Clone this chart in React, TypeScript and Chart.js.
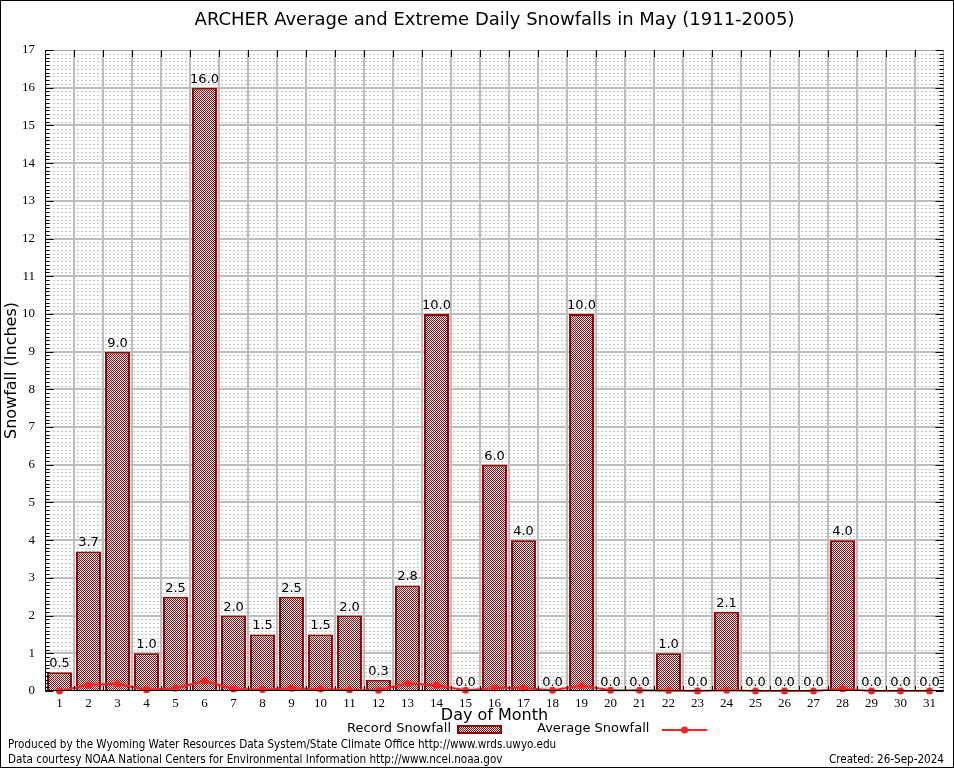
import React, { useEffect, useRef } from "react";
import { Chart, registerables } from "chart.js";

Chart.register(...registerables);

const days = ["1","2","3","4","5","6","7","8","9","10","11","12","13","14","15","16","17","18","19","20","21","22","23","24","25","26","27","28","29","30","31"];
const recordSnowfall = [0.5, 3.7, 9.0, 1.0, 2.5, 16.0, 2.0, 1.5, 2.5, 1.5, 2.0, 0.3, 2.8, 10.0, 0.0, 6.0, 4.0, 0.0, 10.0, 0.0, 0.0, 1.0, 0.0, 2.1, 0.0, 0.0, 0.0, 4.0, 0.0, 0.0, 0.0];
const averageSnowfall = [0.0, 0.16, 0.19, 0.03, 0.07, 0.27, 0.05, 0.04, 0.07, 0.05, 0.03, 0.02, 0.2, 0.15, 0.02, 0.08, 0.08, 0.02, 0.14, 0.02, 0.02, 0.01, 0.0, 0.02, 0.0, 0.0, 0.0, 0.06, 0.0, 0.0, 0.0];
const yTicks = [0, 1, 2, 3, 4, 5, 6, 7, 8, 9, 10, 11, 12, 13, 14, 15, 16, 17];

const titleText = "ARCHER Average and Extreme Daily Snowfalls in May (1911-2005)";
const yTitle = "Snowfall (Inches)";
const xTitle = "Day of Month";
const footer1 = "Produced by the Wyoming Water Resources Data System/State Climate Office http://www.wrds.uwyo.edu";
const footer2 = "Data courtesy NOAA National Centers for Environmental Information http://www.ncei.noaa.gov";
const createdText = "Created: 26-Sep-2024";

function makePattern(ctx: CanvasRenderingContext2D): CanvasPattern | string {
  const c = document.createElement("canvas");
  c.width = 2;
  c.height = 2;
  const p = c.getContext("2d");
  if (!p) return "#d04040";
  p.fillStyle = "#ffffff";
  p.fillRect(0, 0, 2, 2);
  p.fillStyle = "#a80000";
  p.fillRect(0, 0, 1, 1);
  p.fillRect(1, 1, 1, 1);
  return ctx.createPattern(c, "repeat") || "#d04040";
}

export default function App() {
  const ref = useRef<HTMLCanvasElement | null>(null);

  useEffect(() => {
    document.body.style.margin = "0";
    const canvas = ref.current;
    if (!canvas) return;
    const ctx0 = canvas.getContext("2d")!;
    const pattern = makePattern(ctx0);

    const decor = {
      id: "decor",
      beforeDatasetsDraw(chart: any) {
        const { ctx, chartArea: a, scales } = chart;
        const x = scales.x;
        const y = scales.y;
        ctx.save();
        ctx.strokeStyle = "#c4c4c4";
        ctx.lineWidth = 1;
        ctx.setLineDash([2, 2]);
        for (let i = 1; i < 170; i++) {
          if (i % 10 === 0) continue;
          const py = Math.round(y.getPixelForValue(i / 10)) + 0.5;
          ctx.beginPath();
          ctx.moveTo(a.left, py);
          ctx.lineTo(a.right, py);
          ctx.stroke();
        }
        ctx.setLineDash([]);
        ctx.strokeStyle = "#bdbdbd";
        ctx.lineWidth = 2;
        for (let v = 1; v < 17; v++) {
          const py = Math.round(y.getPixelForValue(v));
          ctx.beginPath();
          ctx.moveTo(a.left, py);
          ctx.lineTo(a.right, py);
          ctx.stroke();
        }
        for (let i = 0; i < days.length - 1; i++) {
          const px = Math.round((x.getPixelForValue(i) + x.getPixelForValue(i + 1)) / 2);
          ctx.beginPath();
          ctx.moveTo(px, a.top);
          ctx.lineTo(px, a.bottom);
          ctx.stroke();
        }
        ctx.strokeStyle = "#a8a8a8";
        ctx.lineWidth = 1;
        ctx.strokeRect(Math.round(a.left) + 0.5, Math.round(a.top) + 0.5, Math.round(a.right - a.left) - 1, Math.round(a.bottom - a.top) - 1);
        ctx.restore();
      },
      afterDatasetsDraw(chart: any) {
        const { ctx, chartArea: a, scales } = chart;
        const x = scales.x;
        const y = scales.y;
        ctx.save();
        const meta = chart.getDatasetMeta(1);
        ctx.fillStyle = "#000";
        ctx.font = "13px 'DejaVu Sans'";
        ctx.textAlign = "center";
        ctx.textBaseline = "alphabetic";
        meta.data.forEach((el: any, i: number) => {
          ctx.fillText(recordSnowfall[i].toFixed(1), el.x, el.y - 5);
        });
        ctx.strokeStyle = "#000";
        ctx.lineWidth = 1;
        const L = Math.round(a.left) + 0.5;
        const R = Math.round(a.right) - 0.5;
        for (let i = 0; i <= 170; i++) {
          const py = Math.round(y.getPixelForValue(i / 10)) + 0.5;
          const len = i % 10 === 0 ? 8 : 4;
          ctx.beginPath();
          ctx.moveTo(L, py);
          ctx.lineTo(L + len, py);
          ctx.moveTo(R, py);
          ctx.lineTo(R - len, py);
          ctx.stroke();
        }
        for (let i = 0; i < days.length - 1; i++) {
          const px = Math.round((x.getPixelForValue(i) + x.getPixelForValue(i + 1)) / 2) + 0.5;
          ctx.beginPath();
          ctx.moveTo(px, a.top);
          ctx.lineTo(px, a.top + 7);
          ctx.moveTo(px, a.bottom);
          ctx.lineTo(px, a.bottom - 5);
          ctx.stroke();
        }
        ctx.beginPath();
        ctx.moveTo(L, a.top);
        ctx.lineTo(L, a.bottom);
        ctx.moveTo(a.left, Math.round(a.bottom) - 0.5);
        ctx.lineTo(a.right, Math.round(a.bottom) - 0.5);
        ctx.stroke();
        ctx.restore();
      },
      afterDraw(chart: any) {
        const { ctx, chartArea: a } = chart;
        const cx = (a.left + a.right) / 2;
        ctx.save();
        ctx.fillStyle = "#000";
        ctx.font = "18px 'DejaVu Sans'";
        ctx.textAlign = "center";
        ctx.textBaseline = "middle";
        ctx.fillText(titleText, cx, 20);
        ctx.font = "16px 'DejaVu Sans'";
        ctx.fillText(xTitle, cx, 716);
        ctx.save();
        ctx.translate(12, (a.top + a.bottom) / 2);
        ctx.rotate(-Math.PI / 2);
        ctx.fillText(yTitle, 0, 0);
        ctx.restore();
        ctx.font = "13px 'DejaVu Sans'";
        ctx.textAlign = "right";
        ctx.fillText("Record Snowfall", 451, 729);
        ctx.fillStyle = pattern as any;
        ctx.fillRect(458, 726, 43, 7);
        ctx.strokeStyle = "#990000";
        ctx.lineWidth = 2;
        ctx.strokeRect(458, 726, 43, 7);
        ctx.fillStyle = "#000";
        ctx.textAlign = "left";
        ctx.fillText("Average Snowfall", 537, 729);
        ctx.strokeStyle = "#ff2020";
        ctx.lineWidth = 2;
        ctx.beginPath();
        ctx.moveTo(662, 730);
        ctx.lineTo(707, 730);
        ctx.stroke();
        ctx.fillStyle = "#ff2020";
        ctx.beginPath();
        ctx.arc(684.5, 730, 3.5, 0, Math.PI * 2);
        ctx.fill();
        ctx.fillStyle = "#000";
        ctx.font = "11.6px 'DejaVu Sans Condensed'";
        ctx.textAlign = "left";
        ctx.fillText(footer1, 8, 745);
        ctx.fillText(footer2, 8, 760);
        ctx.textAlign = "right";
        ctx.fillText(createdText, 944, 760);
        ctx.strokeStyle = "#000";
        ctx.lineWidth = 1;
        ctx.strokeRect(0.5, 0.5, 953, 767);
        ctx.restore();
      },
    };

    const chart = new Chart(canvas, {
      type: "bar",
      data: {
        labels: days,
        datasets: [
          {
            type: "line",
            label: "Average Snowfall",
            data: averageSnowfall,
            borderColor: "#ff2020",
            backgroundColor: "#ff2020",
            borderWidth: 2.2,
            pointRadius: 3.5,
            pointStyle: "circle",
            pointBackgroundColor: "#ff2020",
            pointBorderWidth: 0,
            tension: 0,
            clip: false as any,
            order: 0,
          } as any,
          {
            type: "bar",
            label: "Record Snowfall",
            data: recordSnowfall,
            backgroundColor: pattern as any,
            borderColor: "#990000",
            borderWidth: 2,
            barPercentage: 0.86,
            categoryPercentage: 1.0,
            order: 1,
          },
        ],
      },
      options: {
        animation: false,
        responsive: false,
        devicePixelRatio: 1,
        layout: { padding: { top: 50, right: 10, bottom: 57, left: 0 } },
        plugins: {
          legend: { display: false },
          title: { display: false },
          tooltip: { enabled: false },
        },
        scales: {
          x: {
            type: "category",
            offset: true,
            grid: { display: false, drawTicks: false },
            border: { display: false },
            ticks: {
              color: "#000",
              font: { family: "'Liberation Serif'", size: 13 },
              padding: 5,
              maxRotation: 0,
              autoSkip: false,
            },
            afterFit(s: any) {
              s.height = 20;
            },
          },
          y: {
            type: "linear",
            min: 0,
            max: 17,
            afterBuildTicks(s: any) {
              s.ticks = yTicks.map((v) => ({ value: v }));
            },
            ticks: {
              color: "#000",
              font: { family: "'Liberation Serif'", size: 13 },
              padding: 10,
            },
            grid: { display: false, drawTicks: false },
            border: { display: false },
            afterFit(s: any) {
              s.width = 45;
            },
          },
        },
      },
      plugins: [decor],
    });

    return () => chart.destroy();
  }, []);

  return (
    <div style={{ position: "absolute", left: 0, top: 0, width: 954, height: 768, background: "#fff" }}>
      <canvas ref={ref} width={954} height={768} style={{ display: "block" }} />
    </div>
  );
}
